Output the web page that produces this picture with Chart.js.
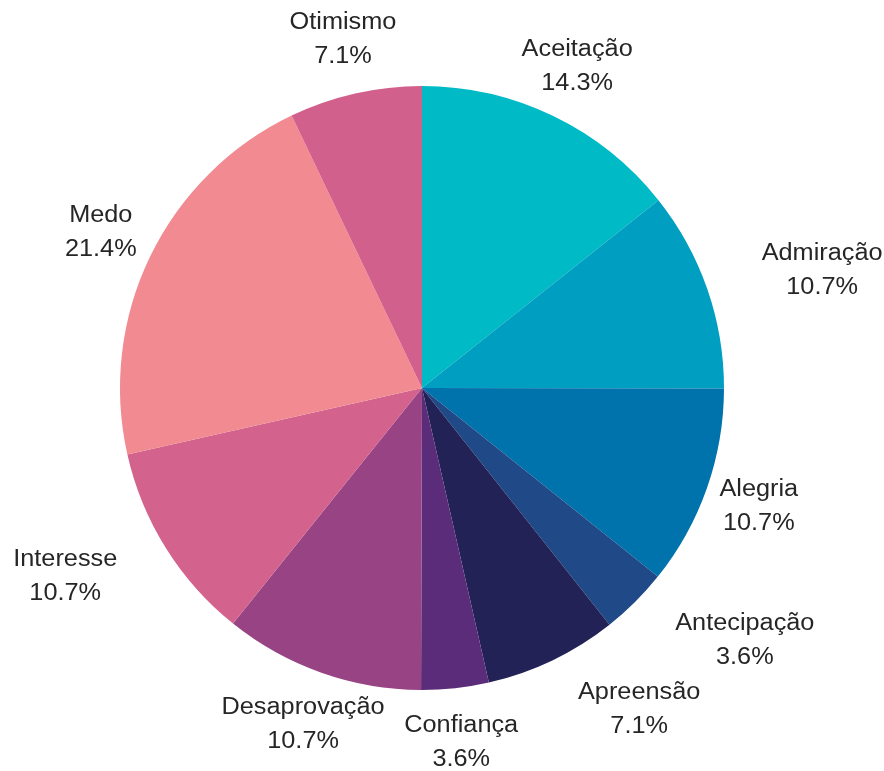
<!DOCTYPE html>
<html>
<head>
<meta charset="utf-8">
<script src="https://cdn.jsdelivr.net/npm/chart.js@4"></script>
<style>
  html, body { margin: 0; padding: 0; background: #fff; }
  #wrap { width: 884px; height: 771px; }
</style>
</head>
<body>
<div id="wrap"><canvas id="chart" width="884" height="771"></canvas></div>
<script>
// categories and shares (%)
const emotions = ["Aceitação", "Admiração", "Alegria", "Antecipação", "Apreensão",
  "Confiança", "Desaprovação", "Interesse", "Medo", "Otimismo"];
const shares = [14.3, 10.7, 10.7, 3.6, 7.1, 3.6, 10.7, 10.7, 21.4, 7.1];

const sliceColors = ["#00bac6", "#009ec0", "#0072ac", "#1f4a87", "#222257",
  "#5b2c7a", "#984484", "#d3628c", "#f28a92", "#d2608c"];

// sideways push of some labels, as in the original layout
const labelShiftX = [0, 63, 0, 71, 63, 0, 0, -54, 0, 0];

const outsideLabels = {
  id: "outsideLabels",
  afterDraw(chart) {
    const ctx = chart.ctx;
    const arcs = chart.getDatasetMeta(0).data;
    arcs.forEach((arc, i) => {
      const p = arc.getProps(["x", "y", "startAngle", "endAngle", "outerRadius"], true);
      const mid = (p.startAngle + p.endAngle) / 2;
      const d = p.outerRadius * 1.182;
      const cx = p.x + Math.cos(mid) * d + labelShiftX[i];
      const cy = p.y + Math.sin(mid) * d;
      ctx.save();
      ctx.translate(cx, cy);
      ctx.scale(1.1, 1); // the source text is a little wide
      ctx.font = "23px 'Liberation Sans', Arial, sans-serif";
      ctx.fillStyle = "#262626";
      ctx.textAlign = "center";
      ctx.textBaseline = "middle";
      ctx.fillText(emotions[i], 0, -17);
      ctx.fillText(shares[i].toFixed(1) + "%", 0, 17);
      ctx.restore();
    });
  }
};

new Chart(document.getElementById("chart"), {
  type: "pie",
  data: {
    labels: emotions,
    datasets: [{
      data: shares,
      backgroundColor: sliceColors,
      borderWidth: 0
    }]
  },
  options: {
    responsive: false,
    animation: false,
    layout: { padding: { left: 120, right: 160, top: 86, bottom: 81 } },
    plugins: {
      legend: { display: false },
      tooltip: { enabled: false }
    }
  },
  plugins: [outsideLabels]
});
</script>
</body>
</html>
